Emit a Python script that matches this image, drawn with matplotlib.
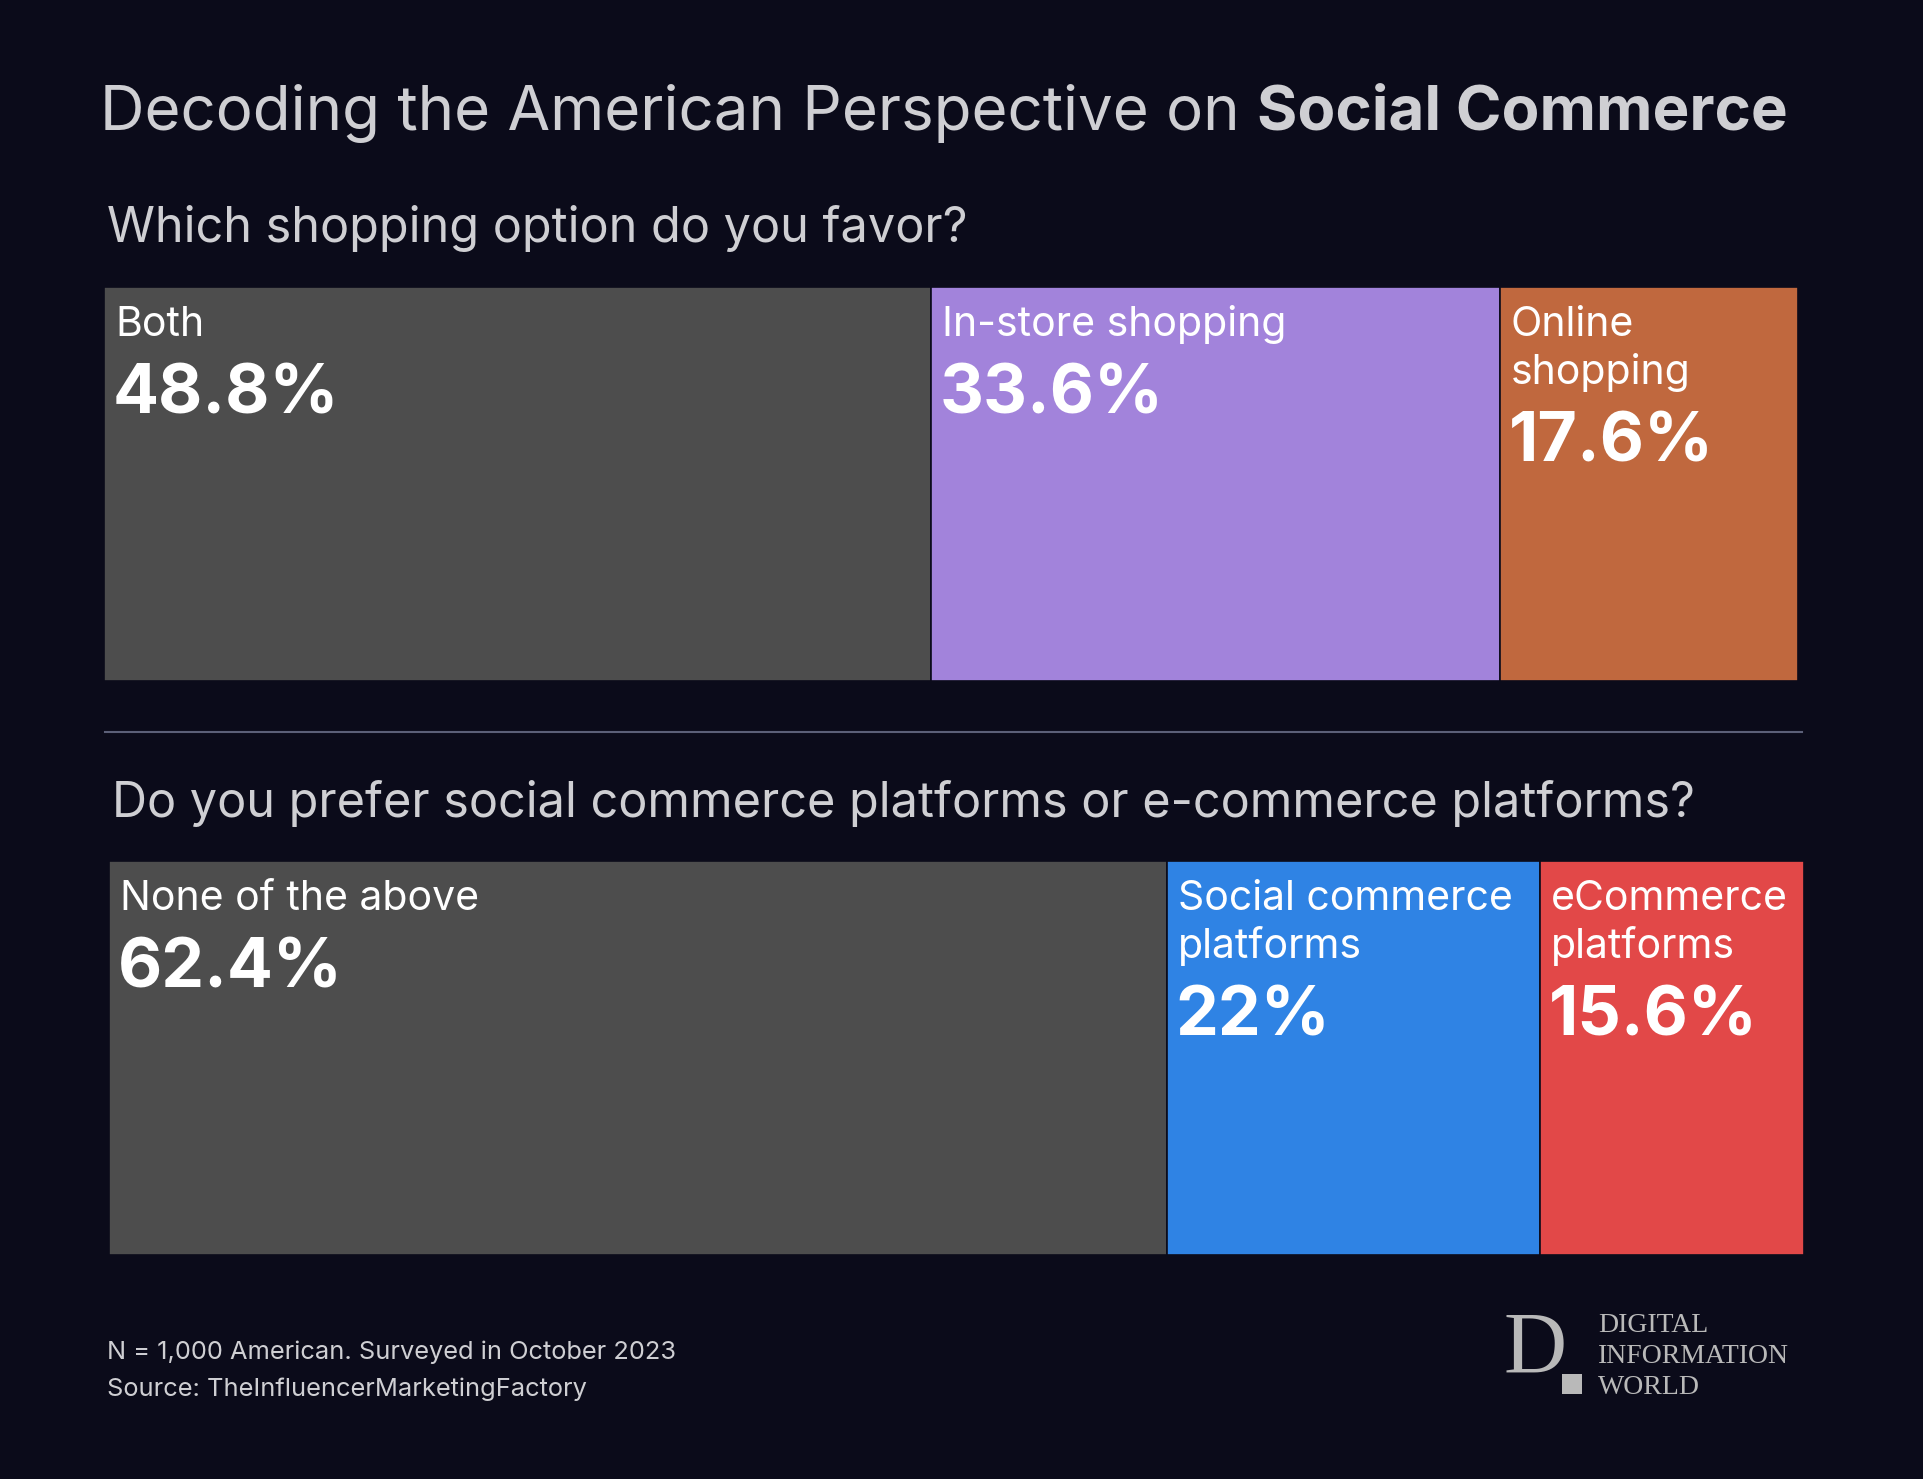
import matplotlib.pyplot as plt
from matplotlib.patches import Rectangle

## Survey data
q1_labels = ['Both', 'In-store shopping', 'Online\nshopping']
q1_values = [48.8, 33.6, 17.6]
q1_colors = ['#4d4d4d', '#a283db', '#c0683e']

q2_labels = ['None of the above', 'Social commerce\nplatforms', 'eCommerce\nplatforms']
q2_values = [62.4, 22.0, 15.6]
q2_colors = ['#4d4d4d', '#2f83e4', '#e24848']

title_light = 'Decoding the American Perspective on'
title_bold = 'Social Commerce'
q1_title = 'Which shopping option do you favor?'
q2_title = 'Do you prefer social commerce platforms or e-commerce platforms?'
footer = ['N = 1,000 American. Surveyed in October 2023',
          'Source: TheInfluencerMarketingFactory']

W, H = 1923, 1479
BG = '#0b0b1a'
TXT = '#cfcfd3'
plt.rcParams['font.family'] = ['Inter', 'DejaVu Sans']

fig = plt.figure(figsize=(W / 100, H / 100), dpi=100, facecolor=BG)

# overlay axes in pixel coordinates for headings, footer and logo
ov = fig.add_axes([0, 0, 1, 1])
ov.set_xlim(0, W)
ov.set_ylim(H, 0)
ov.axis('off')
ov.patch.set_alpha(0)

t1 = ov.text(100, 130, title_light, color=TXT, fontsize=44.5, va='baseline', ha='left')
ov.annotate(title_bold, xy=(1, 0), xycoords=t1, xytext=(17, 0), textcoords='offset pixels',
            color=TXT, fontsize=44.5, fontweight='bold', va='bottom', ha='left')
ov.text(107, 242, q1_title, color=TXT, fontsize=35, va='baseline', ha='left')
ov.text(112, 817, q2_title, color=TXT, fontsize=35, va='baseline', ha='left')
ov.plot([105, 1802], [732, 732], color='#5c6078', lw=1.5)

ov.text(107, 1359, footer[0], color=TXT, fontsize=18.3, va='baseline', ha='left')
ov.text(107, 1396, footer[1], color=TXT, fontsize=18.3, va='baseline', ha='left')

# logo
LOGO = '#b9b9b9'
ov.text(1504, 1373, 'D', color=LOGO, fontsize=63, family='Liberation Serif',
        va='baseline', ha='left')
ov.add_patch(Rectangle((1562, 1374), 20, 20, color=LOGO, lw=0))
for i, word in enumerate(['DIGITAL', 'INFORMATION', 'WORLD']):
    ov.text(1598, 1332 + 31 * i, word, color=LOGO, fontsize=20,
            family='Liberation Serif', va='baseline', ha='left')


def stacked_bar(box, labels, values, colors):
    x0, y0, x1, y1 = box
    ax = fig.add_axes([x0 / W, 1 - y1 / H, (x1 - x0) / W, (y1 - y0) / H])
    lefts = [sum(values[:i]) for i in range(len(values))]
    ax.barh(0.5, values, left=lefts, height=1, color=colors, edgecolor=BG, linewidth=1.2)
    ax.set_xlim(0, sum(values))
    ax.set_ylim(0, 1)
    ax.axis('off')
    for lab, val, left in zip(labels, values, lefts):
        lines = lab.split('\n')
        for i, line in enumerate(lines):
            ax.annotate(line, xy=(left, 1), xytext=(11, -49 - 48 * i),
                        textcoords='offset pixels', color='white', fontsize=29.5,
                        va='baseline', ha='left')
        ax.annotate(f'{val:g}%', xy=(left, 1), xytext=(9, -127 - 48 * (len(lines) - 1)),
                    textcoords='offset pixels', color='white', fontsize=49,
                    fontweight='bold', va='baseline', ha='left')
    return ax


stacked_bar((104, 287, 1798, 681), q1_labels, q1_values, q1_colors)
stacked_bar((109, 861, 1804, 1255), q2_labels, q2_values, q2_colors)

fig.savefig('out.png', dpi=100, facecolor=BG)
